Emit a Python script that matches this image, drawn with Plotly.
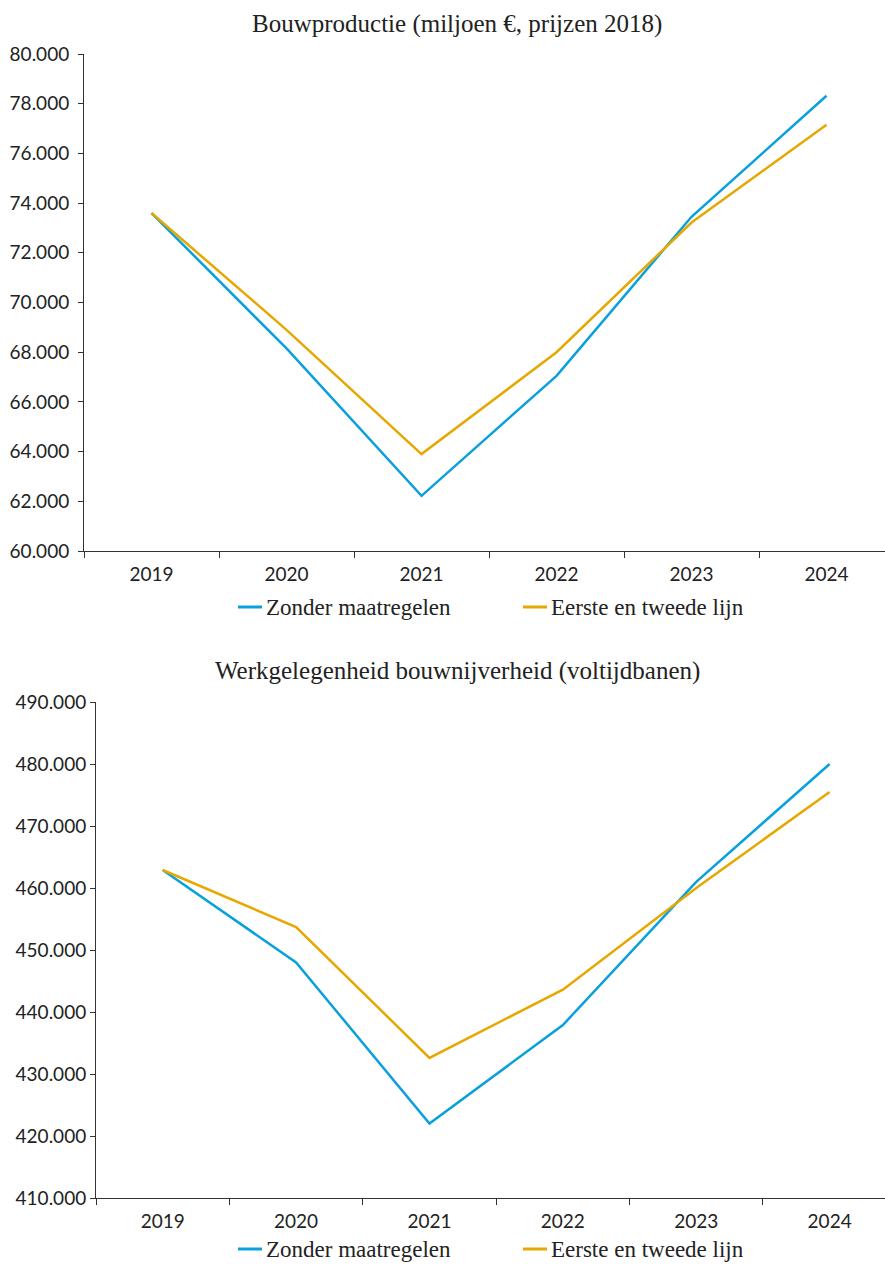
import plotly.graph_objects as go

# Jaren en scenario's
years = ["2019", "2020", "2021", "2022", "2023", "2024"]
series_names = ["Zonder maatregelen", "Eerste en tweede lijn"]

# Bouwproductie (miljoen euro, prijzen 2018)
prod_zonder = [73600, 68150, 62220, 67050, 73450, 78320]
prod_eerste_tweede = [73600, 68900, 63900, 68000, 73220, 77150]

# Werkgelegenheid bouwnijverheid (voltijdbanen)
werk_zonder = [462900, 448000, 422000, 437900, 461000, 480000]
werk_eerste_tweede = [462900, 453700, 432600, 443600, 460000, 475500]

BLUE = "#0aa0dc"
ORANGE = "#e6a700"
COLORS = [BLUE, ORANGE]
TEXT = "#222222"
SERIF = "Liberation Serif, DejaVu Serif, serif"
SANS = "Lato, Open Sans, sans-serif"

W, H = 885, 1265


def px_x(px):
    return px / W


def px_y(px):
    return 1 - px / H


fig = go.Figure()

panels = [
    ((prod_zonder, prod_eerste_tweede), "x", "y"),
    ((werk_zonder, werk_eerste_tweede), "x2", "y2"),
]
for values, xa, ya in panels:
    for name, vals, col in zip(series_names, values, COLORS):
        fig.add_trace(go.Scatter(x=years, y=vals, mode="lines", name=name,
                                 line=dict(color=col, width=2.5),
                                 xaxis=xa, yaxis=ya, showlegend=False))

xcommon = dict(type="category", tickson="boundaries", ticks="outside", ticklen=6,
               tickcolor="#333", showline=True, linecolor="#333", linewidth=1,
               showgrid=False, zeroline=False, fixedrange=True, automargin=False,
               tickfont=dict(family=SANS, size=19, color=TEXT), ticklabelstandoff=6)
ycommon = dict(ticks="outside", ticklen=5, tickcolor="#333", showline=True,
               linecolor="#333", linewidth=1, showgrid=False, zeroline=False,
               automargin=False, tickformat=",d",
               tickfont=dict(family=SANS, size=19, color=TEXT))

# Legend rows under each panel: short line sample followed by the series name
shapes, annotations = [], []
legend_rows = [607, 1249]
legend_items = [(238, 264), (523, 549)]
for row_y in legend_rows:
    for (lx, tx), name, col in zip(legend_items, series_names, COLORS):
        shapes.append(dict(type="line", xref="paper", yref="paper",
                           x0=px_x(lx), x1=px_x(lx + 24), y0=px_y(row_y), y1=px_y(row_y),
                           line=dict(color=col, width=3)))
        annotations.append(dict(text=name, x=px_x(tx), y=px_y(row_y), xref="paper",
                                yref="paper", showarrow=False, xanchor="left",
                                yanchor="middle",
                                font=dict(family=SERIF, size=23, color=TEXT)))

titles = [("Bouwproductie (miljoen €, prijzen 2018)", 24),
          ("Werkgelegenheid bouwnijverheid (voltijdbanen)", 671)]
for text, ty in titles:
    annotations.append(dict(text=text, x=px_x(457), y=px_y(ty), xref="paper",
                            yref="paper", showarrow=False, xanchor="center",
                            yanchor="middle",
                            font=dict(family=SERIF, size=25, color=TEXT)))

fig.update_layout(
    width=W, height=H,
    margin=dict(l=0, r=0, t=0, b=0, autoexpand=False),
    paper_bgcolor="white", plot_bgcolor="white",
    separators=",.",
    showlegend=False,
    xaxis=dict(domain=[px_x(84), 1], range=[-0.5, 5.433], anchor="y", **xcommon),
    yaxis=dict(domain=[px_y(551), px_y(54)], range=[60000, 80000], dtick=2000,
               anchor="x", ticklabelstandoff=5, **ycommon),
    xaxis2=dict(domain=[px_x(96), 1], range=[-0.5, 5.415], anchor="y2", **xcommon),
    yaxis2=dict(domain=[px_y(1198), px_y(702)], range=[410000, 490000], dtick=10000,
                anchor="x2", ticklabelstandoff=0, **ycommon),
    shapes=shapes,
    annotations=annotations,
)

fig.write_html("out.html")
